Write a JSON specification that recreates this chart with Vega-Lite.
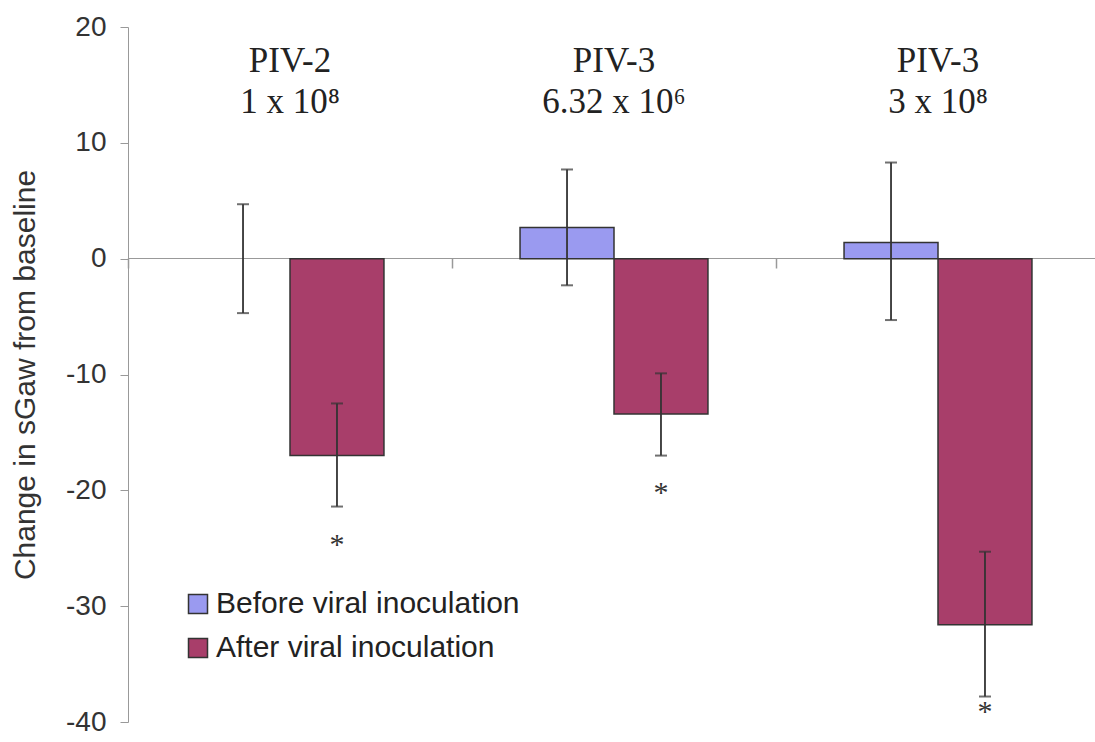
{
  "$schema": "https://vega.github.io/schema/vega-lite/v6.json",
  "autosize": {"type": "none"},
  "padding": {"left": 128, "top": 27, "right": 0, "bottom": 20},
  "width": 972,
  "height": 695,
  "background": "white",
  "config": {
    "view": {"stroke": null},
    "font": "Liberation Sans"
  },
  "datasets": {
    "bars": [
      {"group": "G1", "phase": "Before viral inoculation", "value": 0, "lo": -4.7, "hi": 4.7},
      {"group": "G1", "phase": "After viral inoculation", "value": -17.0, "lo": -21.4, "hi": -12.5},
      {"group": "G2", "phase": "Before viral inoculation", "value": 2.7, "lo": -2.3, "hi": 7.7},
      {"group": "G2", "phase": "After viral inoculation", "value": -13.4, "lo": -17.0, "hi": -9.9},
      {"group": "G3", "phase": "Before viral inoculation", "value": 1.4, "lo": -5.3, "hi": 8.3},
      {"group": "G3", "phase": "After viral inoculation", "value": -31.6, "lo": -37.8, "hi": -25.3}
    ],
    "stars": [
      {"group": "G1", "phase": "After viral inoculation", "y": -24.7, "label": "*"},
      {"group": "G2", "phase": "After viral inoculation", "y": -20.2, "label": "*"},
      {"group": "G3", "phase": "After viral inoculation", "y": -39.1, "label": "*"}
    ],
    "titles": [
      {"group": "G1", "y": 17.1, "label": "PIV-2"},
      {"group": "G1", "y": 13.5, "label": "1 x 10⁸"},
      {"group": "G2", "y": 17.1, "label": "PIV-3"},
      {"group": "G2", "y": 13.5, "label": "6.32 x 10⁶"},
      {"group": "G3", "y": 17.1, "label": "PIV-3"},
      {"group": "G3", "y": 13.5, "label": "3 x 10⁸"}
    ]
  },
  "layer": [
    {
      "data": {"name": "bars"},
      "mark": {"type": "bar", "stroke": "#333333", "strokeWidth": 1.5},
      "encoding": {
        "x": {
          "field": "group", "type": "nominal",
          "scale": {"paddingInner": 0.42, "paddingOuter": 0.21},
          "axis": {
            "title": null, "labels": false, "offset": -464, "domainColor": "#999999",
            "domainWidth": 1, "tickColor": "#999999", "bandPosition": -0.3617,
            "tickSize": 10, "tickWidth": 1.5
          }
        },
        "xOffset": {"field": "phase", "type": "nominal", "sort": ["Before viral inoculation", "After viral inoculation"]},
        "y": {
          "field": "value", "type": "quantitative",
          "scale": {"domain": [-40, 20], "nice": false, "zero": false},
          "axis": {
            "title": "Change in sGaw from baseline",
            "values": [-40, -30, -20, -10, 0, 10, 20],
            "labelExpr": "replace(datum.label, '−', '-')",
            "grid": false, "domainColor": "#999999", "domainWidth": 1,
            "tickColor": "#999999", "tickSize": 8, "labelFontSize": 28, "labelColor": "#333333",
            "labelPadding": 14, "titleFontSize": 30, "titleFontWeight": "normal", "titleColor": "#333333",
            "titlePadding": 25
          }
        },
        "color": {
          "field": "phase", "type": "nominal",
          "scale": {"domain": ["Before viral inoculation", "After viral inoculation"], "range": ["#9a9af0", "#a83e6a"]},
          "legend": {
            "title": null, "orient": "none", "legendX": 55, "legendY": 562,
            "symbolType": "square", "symbolSize": 361, "symbolStrokeColor": "#333333", "symbolStrokeWidth": 1.5,
            "labelFontSize": 30, "labelColor": "#222222", "rowPadding": 14, "labelOffset": 3, "labelLimit": 0
          }
        },
        "strokeOpacity": {"condition": {"test": "datum.value == 0", "value": 0}, "value": 1}
      }
    },
    {
      "data": {"name": "bars"},
      "mark": {"type": "rule", "color": "#333333", "strokeWidth": 1.8},
      "encoding": {
        "x": {"field": "group", "type": "nominal"},
        "xOffset": {"field": "phase", "type": "nominal", "sort": ["Before viral inoculation", "After viral inoculation"]},
        "y": {"field": "lo", "type": "quantitative"},
        "y2": {"field": "hi"}
      }
    },
    {
      "data": {"name": "bars"},
      "mark": {"type": "tick", "color": "#333333", "thickness": 2, "size": 12},
      "encoding": {
        "x": {"field": "group", "type": "nominal"},
        "xOffset": {"field": "phase", "type": "nominal", "sort": ["Before viral inoculation", "After viral inoculation"]},
        "y": {"field": "lo", "type": "quantitative"}
      }
    },
    {
      "data": {"name": "bars"},
      "mark": {"type": "tick", "color": "#333333", "thickness": 2, "size": 12},
      "encoding": {
        "x": {"field": "group", "type": "nominal"},
        "xOffset": {"field": "phase", "type": "nominal", "sort": ["Before viral inoculation", "After viral inoculation"]},
        "y": {"field": "hi", "type": "quantitative"}
      }
    },
    {
      "data": {"name": "stars"},
      "mark": {"type": "text", "font": "Liberation Serif", "fontSize": 30, "color": "#333333", "baseline": "middle"},
      "encoding": {
        "x": {"field": "group", "type": "nominal"},
        "xOffset": {"field": "phase", "type": "nominal", "sort": ["Before viral inoculation", "After viral inoculation"]},
        "y": {"field": "y", "type": "quantitative"},
        "text": {"field": "label"}
      }
    },
    {
      "data": {"name": "titles"},
      "mark": {"type": "text", "font": "Liberation Serif", "fontSize": 35, "color": "#222222", "baseline": "middle"},
      "encoding": {
        "x": {"field": "group", "type": "nominal"},
        "y": {"field": "y", "type": "quantitative"},
        "text": {"field": "label"}
      }
    }
  ],
  "resolve": {"scale": {"xOffset": "shared"}}
}
